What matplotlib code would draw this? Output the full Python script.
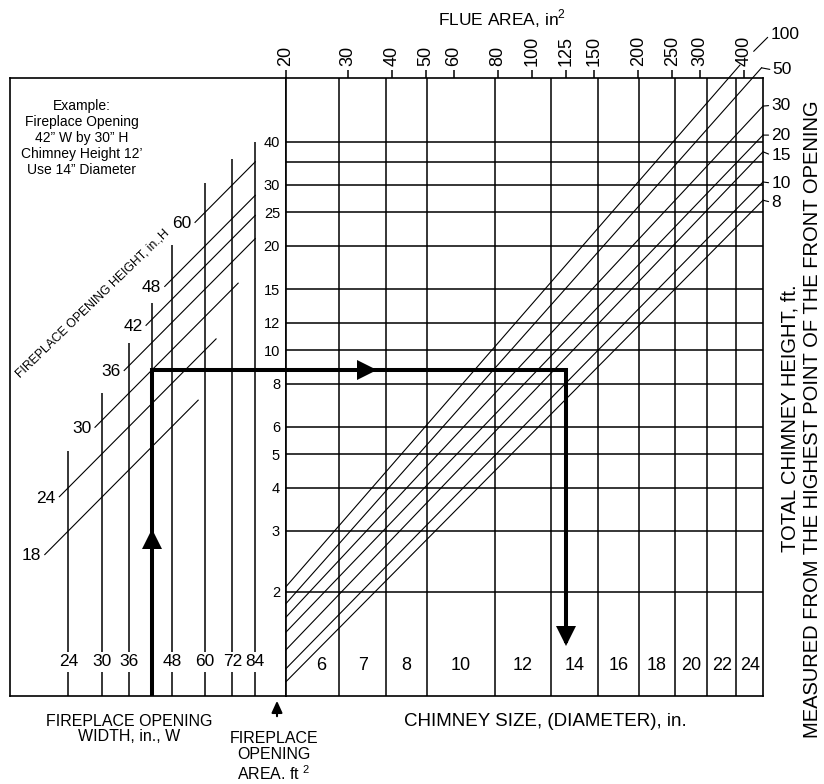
import numpy as np
import matplotlib.pyplot as plt
from matplotlib.patches import FancyArrowPatch
from matplotlib.ticker import NullLocator, NullFormatter
from matplotlib.transforms import blended_transform_factory

plt.rcParams['font.family'] = ['Liberation Sans', 'DejaVu Sans']
plt.rcParams['mathtext.fontset'] = 'custom'
plt.rcParams['mathtext.rm'] = 'Liberation Sans'

# largura da abertura W (in.) - linhas verticais da esquerda
larg = [24, 30, 36, 42, 48, 60, 72, 84]
larg_txt = ['24', '30', '36', '', '48', '60', '72', '84']
larg_topo = [5.1, 7.5, 10.5, 13.7, 20.1, 30.3, 35.6, 40.0]  # area (ft2) onde a linha termina

# altura da abertura H (in.) - diagonais da esquerda
alt = [18, 24, 30, 36, 42, 48, 60]
alt_w0 = [20.5, 22.6, 28.7, 34.9, 40.4, 45.8, 56.1]
alt_w1 = [57.3, 64.6, 74.9, 84.0, 84.0, 84.0, 84.0]

# area da abertura (ft2) - linhas horizontais
area = [40, 35, 30, 25, 20, 15, 12, 10, 8, 6, 5, 4, 3, 2]
area_lab = [40, 30, 25, 20, 15, 12, 10, 8, 6, 5, 4, 3, 2]

# area da chamine (in2) - escala de cima
flue_ticks = [20, 30, 40, 50, 60, 80, 100, 125, 150, 200, 250, 300, 400]

# diametro da chamine (in.) e area de cada diametro (in2)
diam = [6, 7, 8, 10, 12, 14, 16, 18, 20, 22, 24]
diam_area = [28.3, 38.5, 50.3, 78.5, 113.1, 153.9, 201.1, 254.5, 314.2, 380.1, 452.4]

# altura total da chamine (ft) - diagonais da direita
chamine = [8, 10, 15, 20, 30, 50, 100]
cham_a0 = [1.10, 1.20, 1.36, 1.53, 1.69, 1.85, 2.07]      # area em flue = 20
cham_f1 = [452.4, 452.4, 452.4, 452.4, 452.4, 448.0, 389.0]
cham_a1 = [27.1, 30.6, 37.4, 41.8, 50.7, 65.4, 66.6]

# exemplo: 42" x 30" -> 8.75 ft2, chamine 12' -> 14"
ex_w = 42
ex_area = 42 * 30 / 144
ex_flue = 125

W, H = 824, 784
fig = plt.figure(figsize=(W / 100, H / 100), dpi=100)
fig.patch.set_facecolor('white')

top, bot = 78.3, 696.0
axL = fig.add_axes([10 / W, 1 - bot / H, 276 / W, (bot - top) / H])
axR = fig.add_axes([286 / W, 1 - bot / H, 477 / W, (bot - top) / H])

ylo, yhi = 1.0, 61.0
for ax in (axL, axR):
    ax.set_xscale('log')
    ax.set_yscale('log')
    ax.set_ylim(ylo, yhi)
    for s in ax.spines.values():
        s.set_linewidth(1.2)
    for a in (ax.xaxis, ax.yaxis):
        a.set_minor_locator(NullLocator())
        a.set_minor_formatter(NullFormatter())
axL.set_xlim(16.24, 103.2)
axR.set_xlim(20, 452.4)
axL.set_xticks([])
axL.set_yticks([])

lw_g = 1.1
lw_d = 0.8

# ---- lado esquerdo ----
axL.vlines(larg, ylo, larg_topo, color='k', lw=lw_g)
trL = blended_transform_factory(axL.transData, axL.transAxes)
for w, t in zip(larg, larg_txt):
    if t:
        axL.text(w, 0.0555, t, transform=trL, ha='center', va='center', fontsize=12.5,
                 bbox=dict(boxstyle='square,pad=0.15', fc='white', ec='none'), zorder=4)

for h, w0, w1 in zip(alt, alt_w0, alt_w1):
    axL.plot([w0, w1], [w0 * h / 144, w1 * h / 144], color='k', lw=lw_d)
    axL.annotate(str(h), (w0, w0 * h / 144), xytext=(-2.5, -1), textcoords='offset points',
                 ha='right', va='center', fontsize=12.5)

# ---- lado direito ----
axR.hlines(area, 20, 452.4, color='k', lw=lw_g)
axR.vlines(diam_area[:-1], ylo, yhi, color='k', lw=lw_g)
for f1, a0, a1 in zip(cham_f1, cham_a0, cham_a1):
    axR.plot([20, f1], [a0, a1], color='k', lw=lw_d, clip_on=False)

trR = blended_transform_factory(axR.transData, axR.transAxes)
lims = [20] + diam_area
for i, d in enumerate(diam):
    xc = np.sqrt(lims[i] * lims[i + 1])
    if i == 0:
        xc *= 1.06  # o 6 fica deslocado por causa das diagonais
    axR.text(xc, 0.0486, str(d), transform=trR, ha='center', va='center', fontsize=13)

axR.set_xticks(flue_ticks)
axR.set_xticklabels([str(v) for v in flue_ticks])
axR.xaxis.tick_top()
axR.tick_params(axis='x', direction='out', length=5.8, width=1.1, pad=3,
                labelsize=13, labelrotation=90)
axR.set_yticks(area_lab)
axR.set_yticklabels([str(v) for v in area_lab])
axR.tick_params(axis='y', length=0, pad=4.3, labelsize=10.5)

# rotulos das alturas de chamine
offs = {8: (6, -1.5), 10: (6, -0.8), 15: (6, -2.4), 20: (6, 0), 30: (6, 0.5), 50: (8, -1.5), 100: (22, 22)}
for c, f1, a1 in zip(chamine, cham_f1, cham_a1):
    axR.annotate(str(c), (f1, a1), xytext=offs[c], textcoords='offset points',
                 ha='left', va='center', fontsize=12.5, annotation_clip=False,
                 arrowprops=dict(arrowstyle='-', lw=0.8, shrinkA=0,
                                 shrinkB=14 if c == 100 else 0, relpos=(0, 0.5)))

# ---- caminho do exemplo ----
lw_t = 2.9
axL.plot([ex_w, ex_w, 103.2], [ylo, ex_area, ex_area], color='k', lw=lw_t,
         solid_joinstyle='miter', solid_capstyle='butt', clip_on=False, zorder=5)
axR.plot([20, ex_flue, ex_flue], [ex_area, ex_area, 1.42], color='k', lw=lw_t,
         solid_joinstyle='miter', solid_capstyle='butt', zorder=5)
axL.plot(ex_w, 2.84, marker='^', ms=15, color='k', mew=0, zorder=6)
axR.plot(34, ex_area, marker='>', ms=15, color='k', mew=0, zorder=6)
axR.plot(ex_flue, 1.49, marker='v', ms=15, color='k', mew=0, zorder=6)

# ---- textos ----
def fx(px):
    return px / W


def fy(py):
    return 1 - py / H


fig.text(fx(81.7), fy(138), 'Example:\nFireplace Opening\n42\u201d W by 30\u201d H\n'
         'Chimney Height 12\u2019\nUse 14\u201d Diameter', ha='center', va='center',
         fontsize=10, linespacing=1.2)
fig.text(fx(93), fy(304), 'FIREPLACE OPENING HEIGHT, in.,H', rotation=44,
         rotation_mode='anchor', ha='center', va='center', fontsize=8.8)
fig.text(fx(502), fy(19), 'FLUE AREA, in$^2$', ha='center', va='center', fontsize=12.5)
fig.text(fx(129), fy(729), 'FIREPLACE OPENING\nWIDTH, in., W', ha='center', va='center',
         fontsize=11.5, linespacing=1.05)
fig.text(fx(274), fy(757), 'FIREPLACE\nOPENING\nAREA. ft $^2$', ha='center', va='center',
         fontsize=11.5, linespacing=1.1)
fig.text(fx(545), fy(722), 'CHIMNEY SIZE, (DIAMETER), in.', ha='center', va='center',
         fontsize=13.5)
fig.text(fx(790), fy(418), 'TOTAL CHIMNEY HEIGHT, ft.', rotation=90, ha='center',
         va='center', fontsize=14.5)
fig.text(fx(812), fy(419), 'MEASURED FROM THE HIGHEST POINT OF THE FRONT OPENING',
         rotation=90, ha='center', va='center', fontsize=14.5)
fig.patches.append(FancyArrowPatch(
    (fx(277), fy(719)), (fx(277), fy(698)), transform=fig.transFigure,
    arrowstyle='-|>,head_length=7,head_width=3.2', lw=1.5, color='k'))

fig.savefig('out.png', dpi=100, facecolor='white')
